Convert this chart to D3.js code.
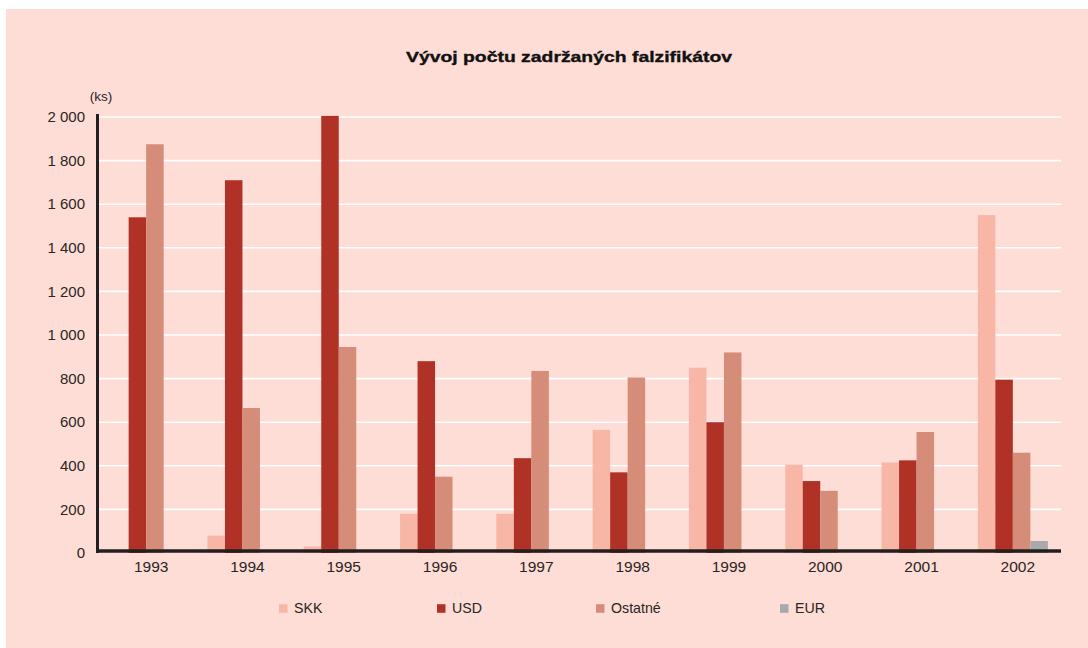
<!DOCTYPE html>
<html>
<head>
<meta charset="utf-8">
<script src="https://cdn.jsdelivr.net/npm/d3@7"></script>
<style>
  html, body { margin: 0; padding: 0; background: #ffffff; }
  svg { display: block; }
  text { font-family: "Liberation Sans", Arial, Helvetica, sans-serif; fill: #2b2523; }
</style>
</head>
<body>
<svg id="chart" width="1088" height="648"></svg>
<script>
const title = "Vývoj počtu zadržaných falzifikátov";
const unitLabel = "(ks)";
const years = ["1993", "1994", "1995", "1996", "1997", "1998", "1999", "2000", "2001", "2002"];
const seriesNames = ["SKK", "USD", "Ostatné", "EUR"];
const skk     = [0, 80, 30, 180, 180, 565, 850, 405, 415, 1550];
const usd     = [1540, 1710, 2005, 880, 435, 370, 600, 330, 425, 795];
const ostatne = [1875, 665, 945, 350, 835, 805, 920, 285, 555, 460];
const eur     = [0, 0, 0, 0, 0, 0, 0, 0, 0, 55];
const yTicks  = [0, 200, 400, 600, 800, 1000, 1200, 1400, 1600, 1800, 2000];
const yTickLabels = ["0", "200", "400", "600", "800", "1 000", "1 200", "1 400", "1 600", "1 800", "2 000"];

(function () {
const seriesValues = [skk, usd, ostatne, eur];
const colors = ["#f8b7a6", "#b03226", "#d58d79", "#a8a9ac"];

const svg = d3.select("#chart");
svg.append("rect").attr("x", 6).attr("y", 9).attr("width", 1082).attr("height", 639).attr("fill", "#fdddd6");

const mLeft = 98, mRight = 1061, mTop = 117, mBottom = 553;
const x0 = d3.scaleBand().domain(years).range([mLeft, mRight]).paddingInner(0.273).paddingOuter(0.1365);
const x1 = d3.scaleBand().domain(seriesNames).range([0, x0.bandwidth()]).padding(0);
const y = d3.scaleLinear().domain([0, 2000]).range([mBottom, mTop]);

svg.append("g").selectAll("line").data(yTicks.filter(d => d > 0)).join("line")
  .attr("x1", mLeft).attr("x2", mRight)
  .attr("y1", d => y(d)).attr("y2", d => y(d))
  .attr("stroke", "#ffffff").attr("stroke-width", 1.6);

const rows = years.map((yr, i) => ({ year: yr, vals: seriesNames.map((s, j) => ({ s, j, v: seriesValues[j][i] })) }));
const g = svg.append("g").selectAll("g").data(rows).join("g")
  .attr("transform", d => `translate(${x0(d.year)},0)`);
g.selectAll("rect").data(d => d.vals.filter(e => e.v > 0)).join("rect")
  .attr("x", d => x1(d.s)).attr("width", x1.bandwidth())
  .attr("y", d => y(d.v)).attr("height", d => y(0) - y(d.v))
  .attr("fill", d => colors[d.j]);

svg.append("line").attr("x1", 97.5).attr("x2", 97.5).attr("y1", 114).attr("y2", 553)
  .attr("stroke", "#231f20").attr("stroke-width", 3);
svg.append("line").attr("x1", 96).attr("x2", mRight).attr("y1", 551).attr("y2", 551)
  .attr("stroke", "#231f20").attr("stroke-width", 3.6);

svg.append("g").selectAll("text").data(yTicks).join("text")
  .attr("x", 85).attr("y", d => y(d)).attr("dy", "0.35em")
  .attr("text-anchor", "end").attr("font-size", 15)
  .text((d, i) => yTickLabels[i]);

svg.append("text").attr("x", 101).attr("y", 96).attr("dy", "0.35em")
  .attr("text-anchor", "middle").attr("font-size", 13.5).text(unitLabel);

svg.append("g").selectAll("text").data(years).join("text")
  .attr("x", d => x0(d) + x0.bandwidth() / 2 + 5).attr("y", 567).attr("dy", "0.35em")
  .attr("text-anchor", "middle").attr("font-size", 15.5).text(d => d);

svg.append("text").attr("x", 569).attr("y", 57).attr("dy", "0.35em")
  .attr("text-anchor", "middle").attr("font-size", 15).attr("font-weight", "bold")
  .attr("textLength", 326).attr("lengthAdjust", "spacingAndGlyphs")
  .style("fill", "#111").style("stroke", "#111").style("stroke-width", 0.35)
  .text(title);

const legendX = [279, 437, 596, 780];
const lg = svg.append("g").selectAll("g").data(seriesNames).join("g")
  .attr("transform", (d, i) => `translate(${legendX[i]},608.5)`);
lg.append("rect").attr("x", 0).attr("y", -4.3).attr("width", 8.5).attr("height", 8.6)
  .attr("fill", (d, i) => colors[i]);
lg.append("text").attr("x", 15).attr("y", 0).attr("dy", "0.35em").attr("font-size", 14.2).text(d => d);
})();
</script>
</body>
</html>
